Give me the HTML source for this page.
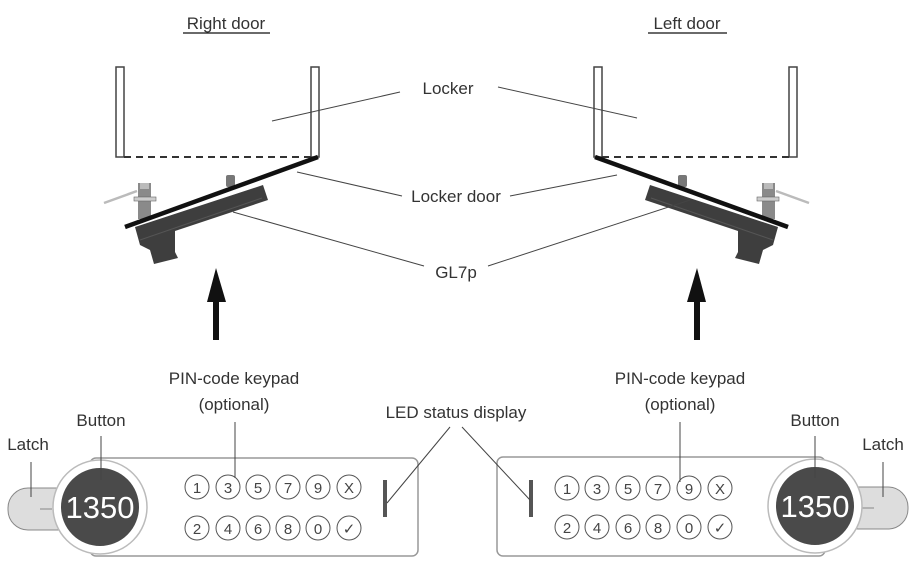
<!DOCTYPE html>
<html><head><meta charset="utf-8"><style>
html,body{margin:0;padding:0;background:#fff;}
svg{display:block;font-family:"Liberation Sans",sans-serif;}
.lbl{font-size:17px;fill:#333;}
.k{font-size:15px;fill:#444;text-anchor:middle;}
</style></head><body>
<svg width="915" height="564" viewBox="0 0 915 564" xmlns="http://www.w3.org/2000/svg">
<defs>
<g id="door">
  <rect x="116" y="67" width="8" height="90" fill="#fff" stroke="#444" stroke-width="1.5"/>
  <rect x="311" y="67" width="8" height="90" fill="#fff" stroke="#444" stroke-width="1.5"/>
  <line x1="124" y1="157" x2="312" y2="157" stroke="#333" stroke-width="2" stroke-dasharray="7,5"/>
  <rect x="226" y="175" width="9" height="12" rx="2" fill="#777"/>
  <polygon points="135,227 263,185 268,200 175,231 175,252 178,258 154,264 150,250 140,245" fill="#3e3e3e"/>
  <line x1="140" y1="240" x2="262" y2="198" stroke="#555" stroke-width="1"/>
  <rect x="138" y="183" width="13" height="36" fill="#8a8a8a"/>
  <rect x="134" y="197" width="22" height="4" fill="#ccc" stroke="#666" stroke-width="0.6"/>
  <rect x="140" y="183" width="9" height="6" fill="#bbb"/>
  <line x1="104" y1="203" x2="137" y2="191" stroke="#bbb" stroke-width="2.5"/>
  <line x1="125" y1="227" x2="318" y2="157" stroke="#111" stroke-width="4.5"/>
  <polygon points="216,268 207,302 226,302" fill="#111"/>
  <rect x="213" y="300" width="6" height="40" fill="#111"/>
</g>
</defs>
<use href="#door"/>
<use href="#door" transform="translate(913,0) scale(-1,1)"/>

<text x="226" y="29" class="lbl" text-anchor="middle" fill="#111">Right door</text>
<line x1="183" y1="33" x2="270" y2="33" stroke="#111" stroke-width="1.3"/>
<text x="687" y="29" class="lbl" text-anchor="middle" fill="#111">Left door</text>
<line x1="648" y1="33" x2="727" y2="33" stroke="#111" stroke-width="1.3"/>

<g stroke="#444" stroke-width="1">
<line x1="272" y1="121" x2="400" y2="92"/>
<line x1="498" y1="87" x2="637" y2="118"/>
<line x1="297" y1="172" x2="402" y2="196"/>
<line x1="510" y1="196" x2="617" y2="175"/>
<line x1="233" y1="212" x2="424" y2="266"/>
<line x1="488" y1="266" x2="690" y2="200"/>
</g>
<text x="448" y="94" class="lbl" text-anchor="middle">Locker</text>
<text x="456" y="202" class="lbl" text-anchor="middle">Locker door</text>
<text x="456" y="278" class="lbl" text-anchor="middle">GL7p</text>

<!-- left keypad -->
<rect x="90" y="458" width="328" height="98" rx="6" fill="#fff" stroke="#999" stroke-width="1.5"/>
<rect x="8" y="488" width="70" height="42" rx="20" fill="#ddd" stroke="#888"/>
<line x1="40" y1="509" x2="52" y2="509" stroke="#888"/>
<circle cx="100" cy="507" r="47" fill="#fff" stroke="#bbb" stroke-width="1.5"/>
<circle cx="100" cy="507" r="40" fill="#4a4a4a" stroke="#fff" stroke-width="2"/>
<text x="100" y="518" font-size="31" fill="#fff" text-anchor="middle">1350</text>
<g fill="#fff" stroke="#555" stroke-width="1">
<circle cx="197" cy="487" r="12"/><circle cx="228" cy="487" r="12"/><circle cx="258" cy="487" r="12"/><circle cx="288" cy="487" r="12"/><circle cx="318" cy="487" r="12"/><circle cx="349" cy="487" r="12"/>
<circle cx="197" cy="528" r="12"/><circle cx="228" cy="528" r="12"/><circle cx="258" cy="528" r="12"/><circle cx="288" cy="528" r="12"/><circle cx="318" cy="528" r="12"/><circle cx="349" cy="528" r="12"/>
</g>
<g class="k">
<text x="197" y="493">1</text><text x="228" y="493">3</text><text x="258" y="493">5</text><text x="288" y="493">7</text><text x="318" y="493">9</text><text x="349" y="493">X</text>
<text x="197" y="534">2</text><text x="228" y="534">4</text><text x="258" y="534">6</text><text x="288" y="534">8</text><text x="318" y="534">0</text><text x="349" y="534">✓</text>
</g>
<rect x="383" y="480" width="4" height="37" fill="#555"/>

<!-- right keypad -->
<rect x="497" y="457" width="328" height="99" rx="6" fill="#fff" stroke="#999" stroke-width="1.5"/>
<rect x="838" y="487" width="70" height="42" rx="20" fill="#ddd" stroke="#888"/>
<line x1="862" y1="508" x2="874" y2="508" stroke="#888"/>
<circle cx="815" cy="506" r="47" fill="#fff" stroke="#bbb" stroke-width="1.5"/>
<circle cx="815" cy="506" r="40" fill="#4a4a4a" stroke="#fff" stroke-width="2"/>
<text x="815" y="517" font-size="31" fill="#fff" text-anchor="middle">1350</text>
<g fill="#fff" stroke="#555" stroke-width="1">
<circle cx="567" cy="488" r="12"/><circle cx="597" cy="488" r="12"/><circle cx="628" cy="488" r="12"/><circle cx="658" cy="488" r="12"/><circle cx="689" cy="488" r="12"/><circle cx="720" cy="488" r="12"/>
<circle cx="567" cy="527" r="12"/><circle cx="597" cy="527" r="12"/><circle cx="628" cy="527" r="12"/><circle cx="658" cy="527" r="12"/><circle cx="689" cy="527" r="12"/><circle cx="720" cy="527" r="12"/>
</g>
<g class="k">
<text x="567" y="494">1</text><text x="597" y="494">3</text><text x="628" y="494">5</text><text x="658" y="494">7</text><text x="689" y="494">9</text><text x="720" y="494">X</text>
<text x="567" y="533">2</text><text x="597" y="533">4</text><text x="628" y="533">6</text><text x="658" y="533">8</text><text x="689" y="533">0</text><text x="720" y="533">✓</text>
</g>
<rect x="529" y="480" width="4" height="37" fill="#555"/>

<!-- bottom labels -->
<g stroke="#444" stroke-width="1">
<line x1="31" y1="462" x2="31" y2="497"/>
<line x1="101" y1="436" x2="101" y2="480"/>
<line x1="235" y1="422" x2="235" y2="478"/>
<line x1="450" y1="427" x2="387" y2="503"/>
<line x1="462" y1="427" x2="530" y2="500"/>
<line x1="680" y1="422" x2="680" y2="482"/>
<line x1="815" y1="436" x2="815" y2="478"/>
<line x1="883" y1="462" x2="883" y2="497"/>
</g>
<text x="28" y="450" class="lbl" text-anchor="middle">Latch</text>
<text x="101" y="426" class="lbl" text-anchor="middle">Button</text>
<text x="234" y="384" class="lbl" text-anchor="middle">PIN-code keypad</text>
<text x="234" y="410" class="lbl" text-anchor="middle">(optional)</text>
<text x="456" y="418" class="lbl" text-anchor="middle">LED status display</text>
<text x="680" y="384" class="lbl" text-anchor="middle">PIN-code keypad</text>
<text x="680" y="410" class="lbl" text-anchor="middle">(optional)</text>
<text x="815" y="426" class="lbl" text-anchor="middle">Button</text>
<text x="883" y="450" class="lbl" text-anchor="middle">Latch</text>
</svg>
</body></html>
